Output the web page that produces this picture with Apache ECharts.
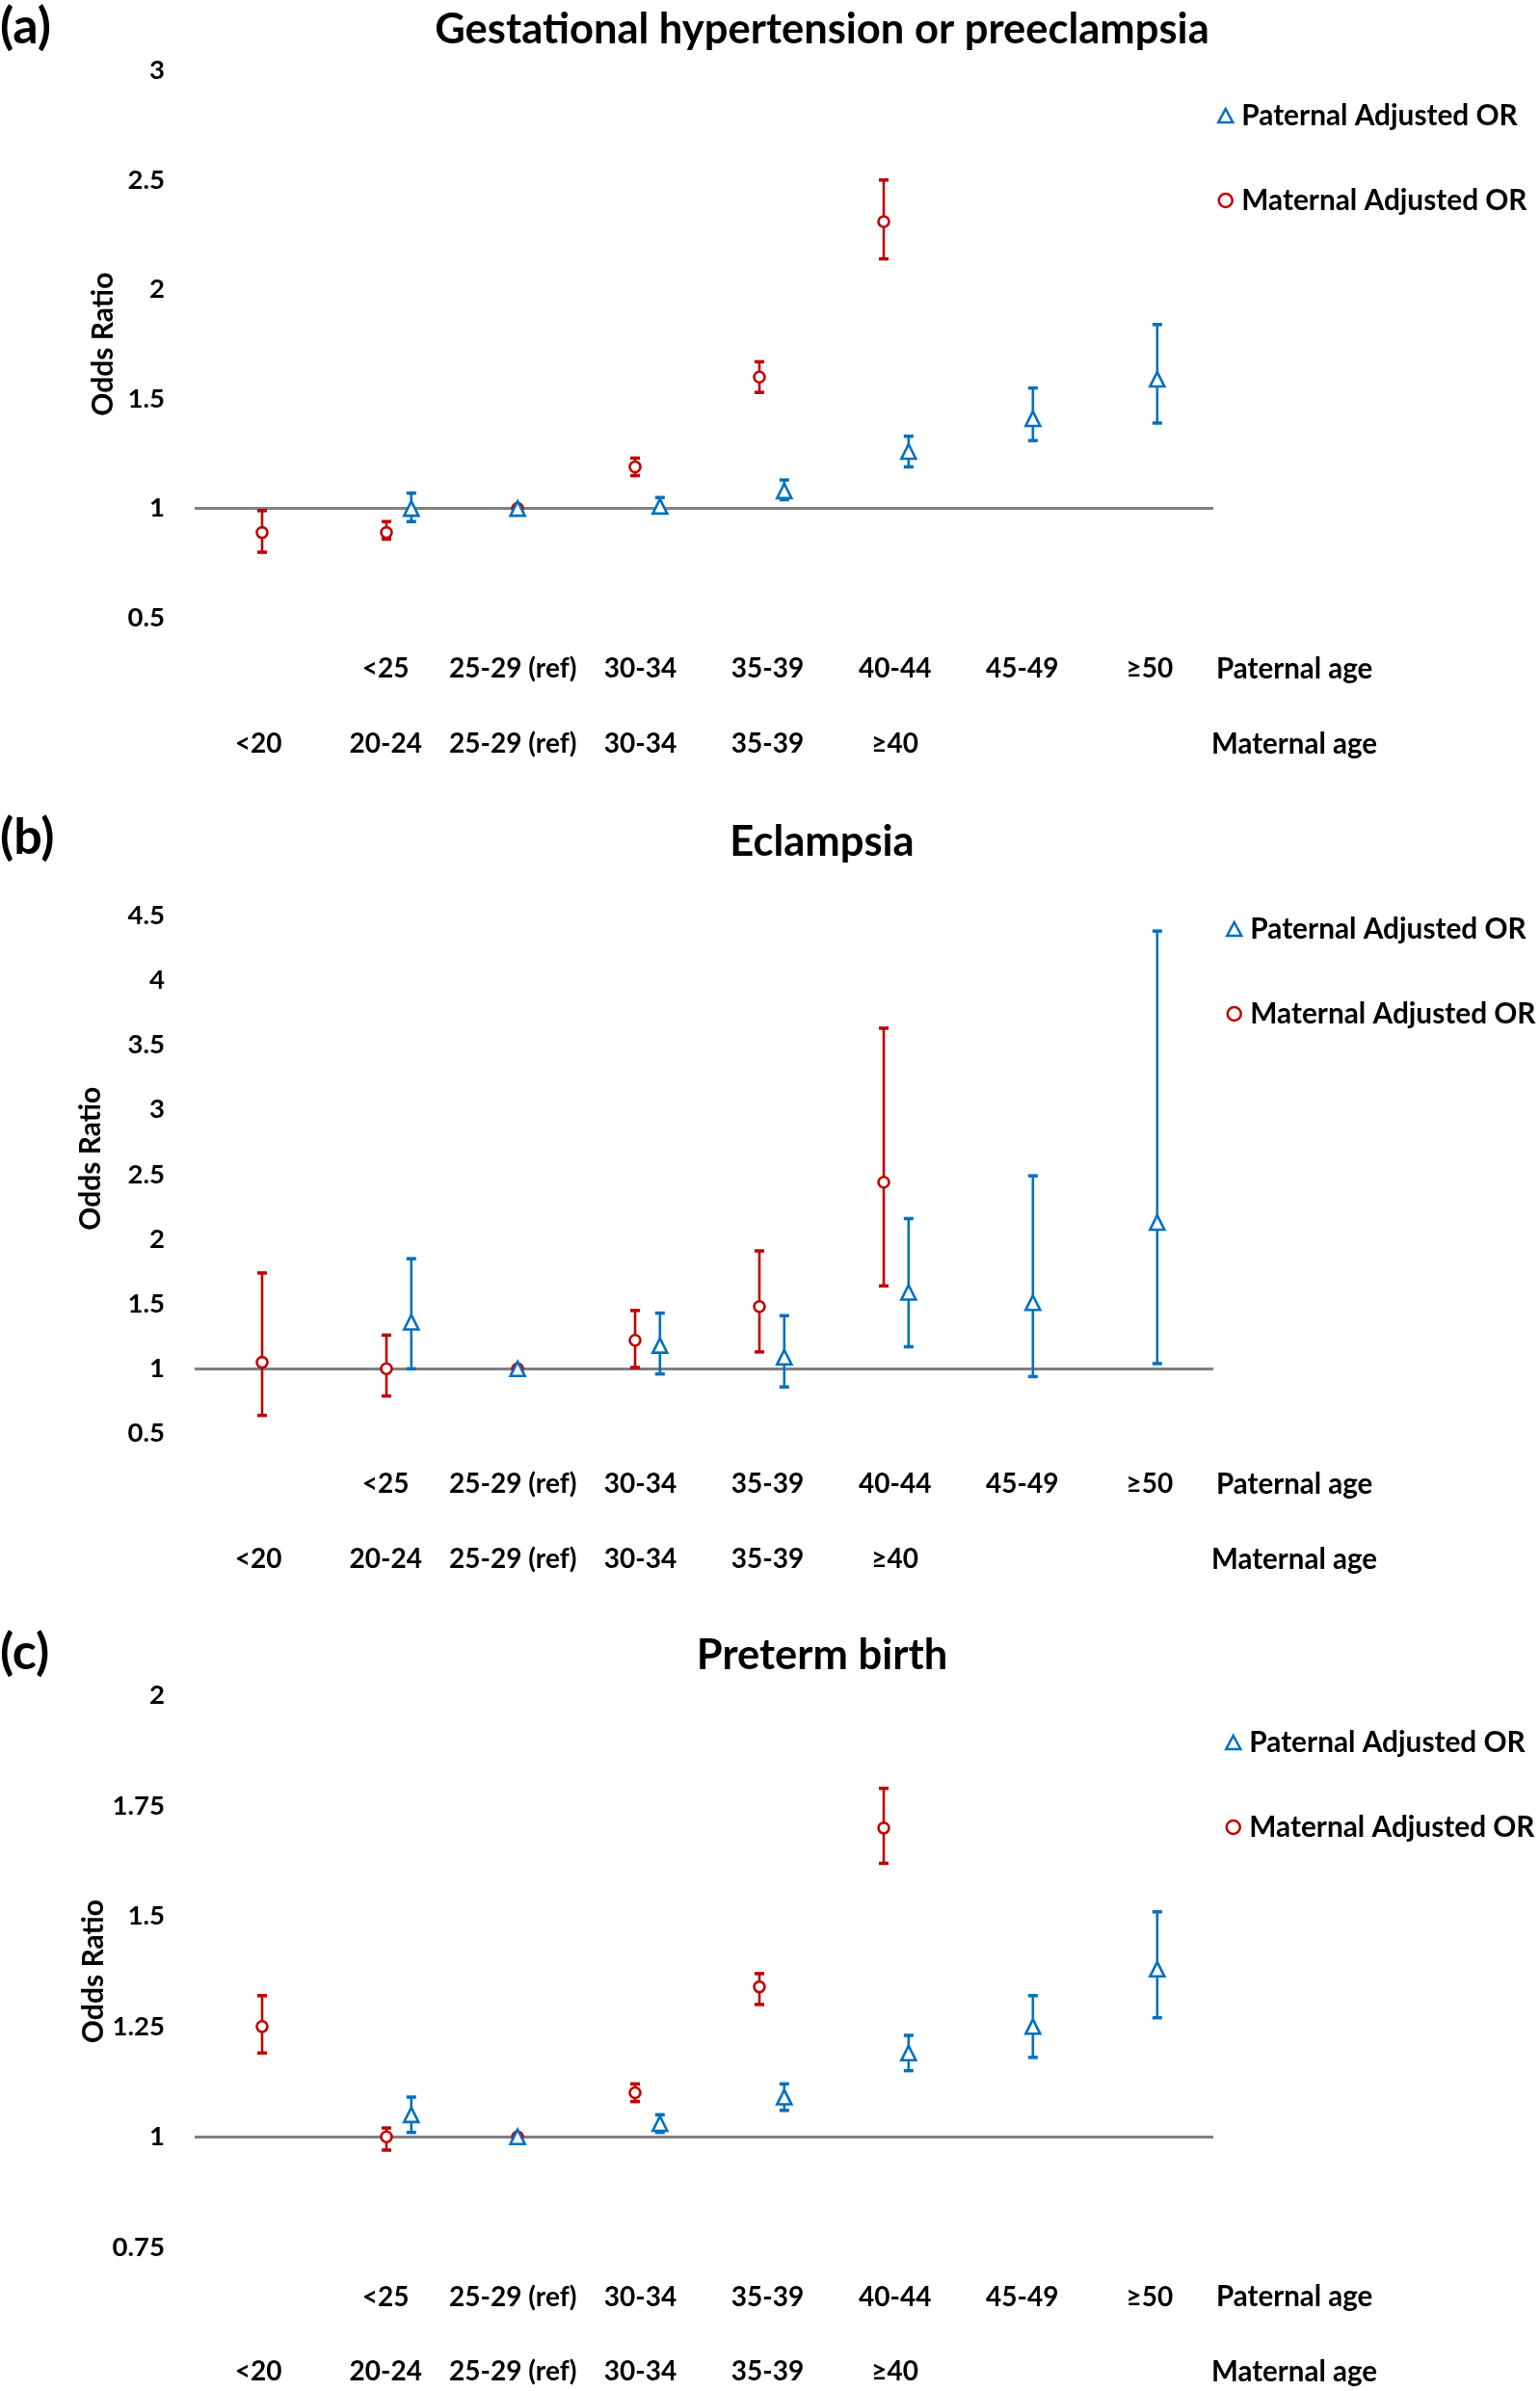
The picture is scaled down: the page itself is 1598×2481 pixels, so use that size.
<!DOCTYPE html>
<html>
<head>
<meta charset="utf-8">
<script src="https://cdn.jsdelivr.net/npm/echarts@6/dist/echarts.min.js"></script>
<style>
html,body{margin:0;padding:0;background:#fff;}
#chart{width:1598px;height:2481px;}
</style>
</head>
<body>
<div id="chart"></div>
<script>
// ---------- DATA ----------
const paternalAges = ['<25', '25-29 (ref)', '30-34', '35-39', '40-44', '45-49', '≥50'];
const maternalAges = ['<20', '20-24', '25-29 (ref)', '30-34', '35-39', '≥40'];

const titleA = 'Gestational hypertension or preeclampsia';
const titleB = 'Eclampsia';
const titleC = 'Preterm birth';

const yTicksA = [0.5, 1, 1.5, 2, 2.5, 3];
const yTicksB = [0.5, 1, 1.5, 2, 2.5, 3, 3.5, 4, 4.5];
const yTicksC = [0.75, 1, 1.25, 1.5, 1.75, 2];

// (a) Gestational hypertension or preeclampsia
const matA_or = [0.89, 0.89, 1.00, 1.19, 1.60, 2.31];
const matA_lo = [0.80, 0.86, 1.00, 1.15, 1.53, 2.14];
const matA_hi = [0.99, 0.94, 1.00, 1.23, 1.67, 2.50];
const patA_or = [1.00, 1.00, 1.01, 1.08, 1.26, 1.41, 1.59];
const patA_lo = [0.94, 1.00, 0.99, 1.04, 1.19, 1.31, 1.39];
const patA_hi = [1.07, 1.00, 1.05, 1.13, 1.33, 1.55, 1.84];

// (b) Eclampsia
const matB_or = [1.05, 1.00, 1.00, 1.22, 1.48, 2.44];
const matB_lo = [0.64, 0.79, 1.00, 1.01, 1.13, 1.64];
const matB_hi = [1.74, 1.26, 1.00, 1.45, 1.91, 3.63];
const patB_or = [1.36, 1.00, 1.18, 1.09, 1.59, 1.51, 2.13];
const patB_lo = [1.00, 1.00, 0.96, 0.86, 1.17, 0.94, 1.04];
const patB_hi = [1.85, 1.00, 1.43, 1.41, 2.16, 2.49, 4.38];

// (c) Preterm birth
const matC_or = [1.25, 1.00, 1.00, 1.10, 1.34, 1.70];
const matC_lo = [1.19, 0.97, 1.00, 1.08, 1.30, 1.62];
const matC_hi = [1.32, 1.02, 1.00, 1.12, 1.37, 1.79];
const patC_or = [1.05, 1.00, 1.03, 1.09, 1.19, 1.25, 1.38];
const patC_lo = [1.01, 1.00, 1.01, 1.06, 1.15, 1.18, 1.27];
const patC_hi = [1.09, 1.00, 1.05, 1.12, 1.23, 1.32, 1.51];

// ---------- LAYOUT / STYLE ----------
const FONT = 'Lato';
const BLUE = '#0070C0';
const RED = '#C00000';
const NSLOT = 8;
const PAT_START = 1, MAT_START = 0;
const PAT_SHIFT = 0.2, REF_SHIFT = 0.055;

const panels = [
  {title: titleA, tag: '(a)', ticks: yTicksA,
   mat: [matA_or, matA_lo, matA_hi], pat: [patA_or, patA_lo, patA_hi],
   top: 73.2, bottom: 641.2, titleY: 31, tagY: 28, legTop: 100, legLeft: 1258,
   row1: 53, row2: 131, nameGap: 80, namePad: 0},
  {title: titleB, tag: '(b)', ticks: yTicksB,
   mat: [matB_or, matB_lo, matB_hi], pat: [patB_or, patB_lo, patB_hi],
   top: 950, bottom: 1487.5, titleY: 874, tagY: 869, legTop: 944, legLeft: 1267,
   row1: 52.5, row2: 130.5, nameGap: 93, namePad: 33},
  {title: titleC, tag: '(c)', ticks: yTicksC,
   mat: [matC_or, matC_lo, matC_hi], pat: [patC_or, patC_lo, patC_hi],
   top: 1759.5, bottom: 2331.7, titleY: 1718, tagY: 1715, legTop: 1788, legLeft: 1266,
   row1: 52, row2: 129.5, nameGap: 90, namePad: 0}
];

const GRID_LEFT = 202, GRID_W = 1057;
const X_MIN = -0.5426, X_MAX = 7.651;

function padRow(labels, start) {
  const row = [];
  for (let i = 0; i < NSLOT; i++) {
    const k = i - start;
    row.push(k >= 0 && k < labels.length ? labels[k] : '');
  }
  return row;
}
function xPos(labels, start, shift) {
  return labels.map((l, k) => (l.indexOf('(ref)') >= 0 ? start + k + REF_SHIFT : start + k + shift));
}

function makeErr(color) {
  return function (params, api) {
    const x = api.value(0);
    const lo = api.coord([x, api.value(1)]);
    const hi = api.coord([x, api.value(2)]);
    const c = 5;
    const st = {stroke: color, lineWidth: 2.6};
    const cs = {stroke: color, lineWidth: 3.5};
    return {type: 'group', children: [
      {type: 'line', shape: {x1: lo[0], y1: lo[1], x2: hi[0], y2: hi[1]}, style: st},
      {type: 'line', shape: {x1: lo[0] - c, y1: lo[1], x2: lo[0] + c, y2: lo[1]}, style: cs},
      {type: 'line', shape: {x1: hi[0] - c, y1: hi[1], x2: hi[0] + c, y2: hi[1]}, style: cs}
    ]};
  };
}

const txt = {fontFamily: FONT, fontWeight: 'bold', color: '#000'};
const grid = [], xAxis = [], yAxis = [], series = [], legend = [], graphic = [];
const matX = xPos(maternalAges, MAT_START, 0);
const patX = xPos(paternalAges, PAT_START, PAT_SHIFT);

panels.forEach((p, i) => {
  grid.push({left: GRID_LEFT, width: GRID_W, top: p.top, height: p.bottom - p.top});
  const xi = xAxis.length;
  xAxis.push({type: 'value', gridIndex: i, min: X_MIN, max: X_MAX, show: false});
  xAxis.push({type: 'category', gridIndex: i, position: 'bottom', offset: p.row1,
    data: padRow(paternalAges, PAT_START), axisLine: {show: false}, axisTick: {show: false},
    axisLabel: Object.assign({interval: 0, margin: 0, verticalAlign: 'middle', fontSize: 28}, txt),
    name: 'Paternal age', nameLocation: 'end', nameGap: 3,
    nameTextStyle: Object.assign({fontSize: 29.5, align: 'left', verticalAlign: 'middle'}, txt)});
  xAxis.push({type: 'category', gridIndex: i, position: 'bottom', offset: p.row2,
    data: padRow(maternalAges, MAT_START), axisLine: {show: false}, axisTick: {show: false},
    axisLabel: Object.assign({interval: 0, margin: 0, verticalAlign: 'middle', fontSize: 28}, txt),
    name: 'Maternal age', nameLocation: 'end', nameGap: -2,
    nameTextStyle: Object.assign({fontSize: 29.5, align: 'left', verticalAlign: 'middle'}, txt)});
  const t = p.ticks;
  yAxis.push({type: 'value', gridIndex: i, min: t[0], max: t[t.length - 1], interval: t[1] - t[0],
    axisLine: {show: false}, axisTick: {show: false}, splitLine: {show: false},
    axisLabel: Object.assign({margin: 31, fontSize: 27.5}, txt),
    name: 'Odds Ratio', nameLocation: 'middle', nameGap: p.nameGap, nameMoveOverlap: false,
    nameTextStyle: Object.assign({fontSize: 30, padding: [0, 0, 0, p.namePad]}, txt)});

  const matErr = p.mat[0].map((v, k) => [matX[k], p.mat[1][k], p.mat[2][k]]);
  const patErr = p.pat[0].map((v, k) => [patX[k], p.pat[1][k], p.pat[2][k]]);
  series.push({type: 'custom', name: 'Maternal Adjusted OR', xAxisIndex: xi, yAxisIndex: i, z: 3,
    renderItem: makeErr(RED), data: matErr, encode: {x: 0, y: [1, 2]}, silent: true,
    markLine: {silent: true, symbol: 'none', z: 1, data: [{yAxis: 1}], label: {show: false},
      lineStyle: {color: '#808080', width: 3, type: 'solid'}}});
  series.push({type: 'custom', name: 'Paternal Adjusted OR', xAxisIndex: xi, yAxisIndex: i, z: 3,
    renderItem: makeErr(BLUE), data: patErr, encode: {x: 0, y: [1, 2]}, silent: true});
  series.push({type: 'scatter', name: 'Maternal Adjusted OR', xAxisIndex: xi, yAxisIndex: i, z: 5,
    symbol: 'circle', symbolSize: 11,
    itemStyle: {color: '#fff', borderColor: RED, borderWidth: 2.6, opacity: 1},
    data: p.mat[0].map((v, k) => [matX[k], v])});
  series.push({type: 'scatter', name: 'Paternal Adjusted OR', xAxisIndex: xi, yAxisIndex: i, z: 5,
    symbol: 'triangle', symbolSize: [15, 15],
    itemStyle: {color: '#fff', borderColor: BLUE, borderWidth: 2.6, opacity: 1},
    data: p.pat[0].map((v, k) => [patX[k], v])});

  legend.push({orient: 'vertical', left: p.legLeft, top: p.legTop, itemGap: 58,
    itemWidth: 15, itemHeight: 14, selectedMode: false,
    textStyle: Object.assign({fontSize: 29.8, lineHeight: 30, padding: [0, 0, 0, 4]}, txt),
    data: [
      {name: 'Paternal Adjusted OR', icon: 'triangle',
       itemStyle: {color: '#fff', borderColor: BLUE, borderWidth: 2.5}},
      {name: 'Maternal Adjusted OR', icon: 'circle',
       itemStyle: {color: '#fff', borderColor: RED, borderWidth: 2.5}}
    ]});

  graphic.push({type: 'text', x: 853, y: p.titleY,
    style: {text: p.title, fontFamily: FONT, fontWeight: 'bold', fontSize: 43.5, fill: '#000',
      align: 'center', verticalAlign: 'middle'}});
  graphic.push({type: 'text', x: 0, y: p.tagY,
    style: {text: p.tag, fontFamily: FONT, fontWeight: 'bold', fontSize: 52, fill: '#000',
      align: 'left', verticalAlign: 'middle'}});
});

const chart = echarts.init(document.getElementById('chart'), null, {renderer: 'canvas'});
chart.setOption({
  animation: false,
  backgroundColor: '#fff',
  grid, xAxis, yAxis, series, legend, graphic
});
</script>
</body>
</html>
